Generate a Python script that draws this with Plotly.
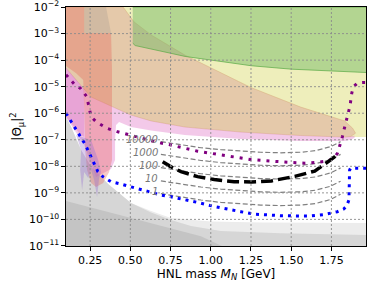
import numpy as np
import plotly.graph_objects as go

# ---------------- data (x in GeV, y as log10 |Theta_mu|^2) ----------------
# shaded exclusion regions (closed outlines)
grey_light_x = [0.10, 0.132, 0.194, 0.256, 0.362, 0.504, 0.629, 0.753, 1.001, 1.311, 1.98, 1.98, 0.10]
grey_light_log = [-6.14, -6.52, -7.39, -8.03, -8.67, -9.38, -9.68, -9.95, -10.08, -10.12, -10.14, -11.0, -11.0]

grey_mid_x = [0.10, 0.132, 0.194, 0.256, 0.362, 0.504, 0.629, 0.753, 0.877, 1.063, 1.435, 1.98, 1.98, 0.10]
grey_mid_log = [-6.14, -6.52, -7.39, -8.03, -8.67, -9.38, -9.74, -10.02, -10.25, -10.44, -10.52, -10.59, -11.0, -11.0]

grey_dark_x = [0.10, 0.318, 0.504, 0.753, 0.939, 1.069, 0.10]
grey_dark_log = [-9.31, -9.65, -9.95, -10.33, -10.63, -11.0, -11.0]

yellow_x = [0.10, 1.98, 1.98, 1.90, 1.869, 1.832, 1.559, 1.187, 0.839, 0.629, 0.504, 0.38, 0.256, 0.163, 0.10]
yellow_log = [-2.0, -2.0, -6.90, -6.90, -6.88, -6.90, -6.84, -6.71, -6.52, -6.29, -6.07, -5.73, -5.39, -4.75, -4.30]

tan_x = [0.10, 0.455, 0.523, 0.629, 0.839, 1.063, 1.249, 1.559, 1.745, 1.832, 1.881, 1.90,
         1.869, 1.832, 1.559, 1.187, 0.839, 0.629, 0.504, 0.38, 0.256, 0.163, 0.10]
tan_log = [-2.0, -2.0, -2.56, -3.05, -3.81, -4.49, -5.03, -5.77, -6.11, -6.29, -6.56, -6.75,
           -6.88, -6.90, -6.84, -6.71, -6.52, -6.29, -6.07, -5.73, -5.39, -4.75, -4.30]

green_x = [0.515, 1.98, 1.98, 1.75, 1.50, 1.25, 1.00, 0.84, 0.75, 0.65, 0.57, 0.53, 0.515]
green_log = [-2.0, -2.0, -4.47, -4.41, -4.34, -4.21, -4.00, -3.86, -3.74, -3.62, -3.52, -3.45, -3.36]

pink_x = [0.10, 0.163, 0.256, 0.38, 0.504, 0.629, 0.839, 1.187, 1.559, 1.832, 1.869, 1.894,
          1.894, 1.87, 1.832, 1.559, 1.187, 0.839, 0.629, 0.504, 0.43, 0.411, 0.405, 0.405,
          0.38, 0.287, 0.213, 0.10]
pink_log = [-4.30, -4.75, -5.39, -5.73, -6.07, -6.29, -6.52, -6.71, -6.84, -6.90, -6.88, -6.85,
            -6.92, -7.00, -7.05, -7.05, -6.97, -6.82, -6.65, -6.52, -6.33, -6.44, -7.00, -7.76,
            -8.10, -8.40, -7.20, -6.14]

magenta_x = [0.10, 0.163, 0.213, 0.213, 0.19, 0.10]
magenta_log = [-4.30, -4.75, -5.10, -6.90, -6.80, -6.14]

red_x = [0.10, 0.213, 0.213, 0.38, 0.386, 0.386, 0.368, 0.331, 0.287, 0.256, 0.231, 0.219,
         0.213, 0.207, 0.163, 0.10]
red_log = [-2.0, -2.0, -2.98, -2.98, -4.37, -7.76, -8.21, -8.63, -8.78, -8.63, -8.14, -7.39,
           -5.77, -4.75, -4.49, -4.22]

greytop_x = [0.213, 0.349, 0.38, 0.213]
greytop_log = [-2.0, -2.0, -2.98, -2.98]

lavender_x = [0.163, 0.194, 0.188, 0.200, 0.213, 0.238, 0.256, 0.275, 0.293, 0.306, 0.318, 0.300, 0.256]
lavender_log = [-6.82, -7.39, -8.14, -8.89, -8.21, -8.44, -8.14, -8.52, -9.16, -8.44, -8.21, -7.76, -7.01]

# sensitivity curves
blue_x = [0.10, 0.132, 0.153, 0.174, 0.194, 0.215, 0.236, 0.256, 0.277, 0.298, 0.329, 0.380, 0.442,
          0.504, 0.577, 0.639, 0.690, 0.753, 0.833, 0.918, 1.019, 1.073, 1.125, 1.187, 1.269, 1.331,
          1.435, 1.548, 1.621, 1.703, 1.787, 1.826, 1.844, 1.859, 1.860, 1.863, 1.869, 1.975]
blue_log = [-6.00, -6.32, -6.51, -6.70, -6.89, -7.13, -7.39, -7.64, -7.89, -8.20, -8.39, -8.58, -8.67,
            -8.77, -8.87, -8.99, -9.08, -9.15, -9.24, -9.36, -9.51, -9.58, -9.65, -9.71, -9.80, -9.83,
            -9.86, -9.87, -9.87, -9.82, -9.71, -9.61, -9.50, -9.27, -8.70, -8.14, -8.07, -8.07]

purple_x = [0.10, 0.136, 0.163, 0.188, 0.211, 0.230, 0.236, 0.242, 0.246, 0.256, 0.287, 0.318, 0.355,
            0.422, 0.484, 0.546, 0.608, 0.670, 0.732, 0.794, 0.856, 0.918, 1.001, 1.083, 1.166, 1.253,
            1.460, 1.584, 1.666, 1.725, 1.766, 1.787, 1.797, 1.807, 1.818, 1.828, 1.838, 1.849, 1.859,
            1.867, 1.871, 1.877, 1.888, 1.914, 1.956, 1.975]
purple_log = [-4.55, -4.81, -4.98, -5.05, -5.23, -5.38, -5.57, -5.76, -5.94, -6.13, -6.32, -6.44, -6.57,
              -6.70, -6.80, -6.89, -6.98, -7.10, -7.17, -7.26, -7.36, -7.43, -7.51, -7.59, -7.65, -7.75,
              -7.84, -7.88, -7.85, -7.80, -7.69, -7.51, -7.32, -7.13, -6.89, -6.63, -6.38, -6.13, -5.88,
              -5.69, -5.47, -5.23, -5.00, -4.85, -4.84, -4.84]

black_x = [0.701, 0.753, 0.815, 0.918, 1.021, 1.145, 1.253, 1.377, 1.522, 1.646, 1.726, 1.789]
black_log = [-7.83, -8.02, -8.20, -8.39, -8.50, -8.58, -8.59, -8.55, -8.38, -8.18, -7.84, -7.56]

# event-number contours
contour_labels = ["10000", "1000", "100", "10", "1"]
contour_x = [0.690, 0.815, 0.939, 1.063, 1.187, 1.311, 1.435, 1.559, 1.652, 1.745, 1.807]
contour_10000 = [-7.07, -7.19, -7.30, -7.37, -7.43, -7.47, -7.49, -7.47, -7.41, -7.26, -7.07]
contour_1000 = [-7.55, -7.67, -7.78, -7.86, -7.92, -7.96, -7.98, -7.96, -7.90, -7.75, -7.55]
contour_100 = [-8.05, -8.17, -8.28, -8.36, -8.42, -8.46, -8.48, -8.46, -8.40, -8.25, -8.06]
contour_10 = [-8.55, -8.67, -8.78, -8.86, -8.92, -8.96, -8.98, -8.96, -8.90, -8.75, -8.56]
contour_1 = [-9.03, -9.16, -9.27, -9.36, -9.42, -9.46, -9.48, -9.46, -9.40, -9.25, -9.05]

x_ticks = [0.25, 0.50, 0.75, 1.00, 1.25, 1.50, 1.75]
x_tick_labels = ["0.25", "0.50", "0.75", "1.00", "1.25", "1.50", "1.75"]
y_tick_exps = [-11, -10, -9, -8, -7, -6, -5, -4, -3, -2]

# ---------------- figure ----------------
fig = go.Figure()


def area(xs, logs, fill, line_color=None, line_width=0):
    fig.add_trace(go.Scatter(
        x=xs, y=10.0 ** np.array(logs), mode="lines", fill="toself", fillcolor=fill,
        line=dict(color=line_color or "rgba(0,0,0,0)", width=line_width),
        hoverinfo="skip", showlegend=False))


area(grey_light_x, grey_light_log, "#ececec")
area(grey_mid_x, grey_mid_log, "#d6d6d6")
area(grey_dark_x, grey_dark_log, "#c4c4c4")
area(yellow_x, yellow_log, "rgba(221,221,119,0.5)")
area(tan_x, tan_log, "rgba(220,164,153,0.5)", "rgba(215,170,120,0.6)", 0.8)
area(green_x, green_log, "rgba(108,182,96,0.46)", "rgba(90,170,70,0.7)", 1)
area(pink_x, pink_log, "rgba(225,120,200,0.4)")
area(magenta_x, magenta_log, "rgba(215,110,185,0.4)")
area(red_x, red_log, "rgba(230,90,80,0.32)")
area(greytop_x, greytop_log, "rgba(128,128,128,0.2)")
area(lavender_x, lavender_log, "rgba(150,110,210,0.35)")

contours = [contour_10000, contour_1000, contour_100, contour_10, contour_1]
for lab, c in zip(contour_labels, contours):
    fig.add_trace(go.Scatter(x=contour_x, y=10.0 ** np.array(c), mode="lines",
                             line=dict(color="#808080", width=1.2, dash="5px,2.5px"),
                             hoverinfo="skip", showlegend=False))
    fig.add_annotation(x=contour_x[0], y=c[0], yref="y", xref="x", text="<i>" + lab + "</i>",
                       showarrow=False, xanchor="right", yanchor="middle", xshift=-1, yshift=2,
                       font=dict(family="DejaVu Sans", size=10, color="#777777"))

fig.add_trace(go.Scatter(x=purple_x, y=10.0 ** np.array(purple_log), mode="lines",
                         line=dict(color="#800080", width=3, dash="3px,6px"),
                         hoverinfo="skip", showlegend=False))
fig.add_trace(go.Scatter(x=blue_x, y=10.0 ** np.array(blue_log), mode="lines",
                         line=dict(color="#0000ff", width=3, dash="3px,5px"),
                         hoverinfo="skip", showlegend=False))
fig.add_trace(go.Scatter(x=black_x, y=10.0 ** np.array(black_log), mode="lines",
                         line=dict(color="#000000", width=3.5, dash="12px,5px"),
                         hoverinfo="skip", showlegend=False))

# dotted grid drawn above the shaded regions
for xv in x_ticks:
    fig.add_shape(type="line", xref="x", yref="paper", x0=xv, x1=xv, y0=0, y1=1,
                  line=dict(color="rgba(140,140,140,0.9)", width=1, dash="2px,2px"), layer="above")
for e in y_tick_exps[1:-1]:
    fig.add_shape(type="line", xref="paper", yref="y", x0=0, x1=1, y0=10.0 ** e, y1=10.0 ** e,
                  line=dict(color="rgba(140,140,140,0.9)", width=1, dash="2px,2px"), layer="above")

font_main = "DejaVu Sans"
fig.update_layout(
    width=368, height=286,
    margin=dict(l=66, r=2, t=7, b=40, autoexpand=False),
    paper_bgcolor="white", plot_bgcolor="white",
    showlegend=False,
    font=dict(family=font_main, size=11, color="black"),
    xaxis=dict(range=[0.1, 1.965], tickvals=x_ticks, ticktext=x_tick_labels,
               showgrid=False, zeroline=False, showline=True, mirror=True, automargin=False,
               linecolor="black", linewidth=1.2, ticks="outside", ticklen=3.5,
               tickwidth=1, tickcolor="black", tickfont=dict(size=11),
               title=dict(text="HNL mass <i>M</i><sub><i>N</i></sub> [GeV]",
                          font=dict(size=12), standoff=2)),
    yaxis=dict(type="log", range=[-11.002, -1.998], tickvals=[10.0 ** e for e in y_tick_exps],
               ticktext=["10<sup>\u2212%d</sup>" % (-e) for e in y_tick_exps],
               ticklabeloverflow="allow",
               showgrid=False, zeroline=False, showline=True, mirror=True, automargin=False,
               linecolor="black", linewidth=1.2, ticks="outside", ticklen=3.5,
               tickwidth=1, tickcolor="black", tickfont=dict(size=11),
               title=dict(text="|\u0398<sub>\u03bc</sub>|<sup>2</sup>", font=dict(size=12),
                          standoff=4)),
)

fig.write_html("out.html", config={"displayModeBar": False},
               post_script="document.body.style.margin='0';document.body.style.overflow='hidden';")
